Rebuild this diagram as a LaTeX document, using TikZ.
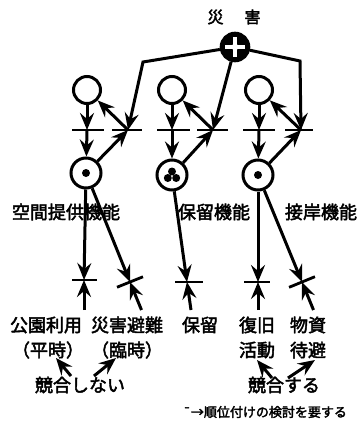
\documentclass[tikz,border=0pt]{standalone}
\usepackage{fontspec}
\setmainfont{Noto Sans CJK JP}[FakeBold=2.5]
\usetikzlibrary{arrows.meta,calc}
\tikzset{
  arr/.style={line width=3pt,-{Stealth[length=17pt,width=14pt,inset=6pt]}},
  ucirc/.style={circle,draw,line width=3pt,minimum size=27pt,inner sep=0pt},
  lcirc/.style={circle,draw,line width=3pt,minimum size=30pt,inner sep=0pt},
  barline/.style={line width=2.8pt},
  lbl/.style={font=\fontsize{18}{20}\selectfont,inner sep=0pt},
  dotmark/.style={circle,fill,inner sep=0pt,minimum size=8pt},
}
\begin{document}
\begin{tikzpicture}[x=1pt,y=-1pt]
\useasboundingbox (0,0) rectangle (358,421);
% title
\node[font=\fontsize{16}{18}\selectfont,inner sep=0pt] (title) at (234,17) {災\hspace{21pt}害};
% disaster circle
\node[circle,draw,fill=black,line width=2.6pt,minimum size=28pt,inner sep=0pt] (d) at (235,47) {};
\fill[white] ($(d.center)+(-10,-1.6)$) rectangle ($(d.center)+(10,1.6)$);
\fill[white] ($(d.center)+(-1.6,-10)$) rectangle ($(d.center)+(1.6,10)$);
\fill[white] (d.center) circle (3.4);
% upper circles
\node[ucirc] (u1) at (87,90) {};
\node[ucirc] (u2) at (172,90) {};
\node[ucirc] (u3) at (259,90) {};
% lower circles
\node[lcirc] (l1) at (86,173) {};
\node[lcirc] (l2) at (172,175) {};
\node[lcirc] (l3) at (258,175) {};
\node[dotmark] (l1d) at (l1) {};
\node[dotmark] (l3d) at (l3) {};
\node[dotmark] (l2a) at ($(l2)+(0,-3.5)$) {};
\node[dotmark] (l2b) at ($(l2)+(-4.2,3)$) {};
\node[dotmark] (l2c) at ($(l2)+(4.2,3)$) {};
% junctions and bars (y=130)
\coordinate (v1) at (87,130);
\coordinate (v2) at (172,130);
\coordinate (v3) at (259,130);
\coordinate (j1) at (128,130);
\coordinate (j2) at (213,130);
\coordinate (j3) at (301,130);
\coordinate (c1) at (143,62);
\coordinate (c3) at (300,61);
\draw[barline] (72,130) -- (104,130);
\draw[barline] (112,130) -- (142,130);
\draw[barline] (157,130) -- (190,130);
\draw[barline] (197,130) -- (228,130);
\draw[barline] (243,130) -- (275,130);
\draw[barline] (285,130) -- (313,130);
% disaster connectors
\draw[arr] (d) -- (c1) -- (j1);
\draw[arr] (d) -- (j2);
\draw[arr] (d) -- (c3) -- (j3);
% cluster connectors
\foreach \i in {1,2,3}{
  \draw[arr] (u\i) -- (v\i);
  \draw[arr] (v\i) -- (l\i);
  \draw[arr] (l\i) -- (j\i);
  \draw[arr] (j\i) -- (u\i);
}
% function labels
\node[lbl] (f1) at (66,212) {空間提供機能};
\node[lbl] (f2) at (214,212) {保留機能};
\node[lbl] (f3) at (321,212) {接岸機能};
% bottom bars
\coordinate (b1) at (84,280);
\coordinate (e1) at (84,310);
\coordinate (b2) at (130,282);
\coordinate (e2) at (141.5,310);
\coordinate (b3) at (187,282);
\coordinate (e3) at (191,310);
\coordinate (b4) at (258,282);
\coordinate (e4) at (258,310);
\coordinate (b5) at (302,282);
\coordinate (e5) at (313.5,310);
\draw[barline] (72,280) -- (97,280);
\draw[barline] ($(b2)!14pt!90:(l1)$) -- ($(b2)!14pt!-90:(l1)$);
\draw[barline] (175,282) -- (203,282);
\draw[barline] (244,282) -- (270,282);
\draw[barline] ($(b5)!14pt!90:(l3)$) -- ($(b5)!14pt!-90:(l3)$);
\draw[arr] (l1) -- (b1);
\draw[arr] (e1) -- (b1);
\draw[arr] (l1) -- (b2);
\draw[arr] (e2) -- (b2);
\draw[arr] (l2) -- (b3);
\draw[arr] (e3) -- (b3);
\draw[arr] (l3) -- (b4);
\draw[arr] (e4) -- (b4);
\draw[arr] (l3) -- (b5);
\draw[arr] (e5) -- (b5);
% bottom labels
\node[lbl] (t1) at (46,325) {公園利用};
\node[lbl] (t2) at (127,325) {災害避難};
\node[lbl] (t3) at (200,325) {保留};
\node[lbl] (t4) at (257,325) {復旧};
\node[lbl] (t5) at (308,325) {物資};
\node[lbl] (s1) at (48,350) {（平時）};
\node[lbl] (s2) at (127,350) {（臨時）};
\node[lbl] (s4) at (257,350) {活動};
\node[lbl] (s5) at (308,350) {待避};
\node[lbl] (k1) at (80,385) {競合しない};
\node[lbl] (k2) at (284,385) {競合する};
\node[font=\fontsize{13}{15}\selectfont,inner sep=0pt] (note) at (265,412) {¯→順位付けの検討を要する};
% competition arrows
\coordinate (k1a) at (71,376);
\coordinate (k1b) at (56,358);
\coordinate (k1c) at (94,376);
\coordinate (k1d) at (116,358);
\coordinate (k2a) at (272,378);
\coordinate (k2b) at (257,360);
\coordinate (k2c) at (288,378);
\coordinate (k2d) at (315,360);
\draw[arr] (k1a) -- (k1b);
\draw[arr] (k1c) -- (k1d);
\draw[arr] (k2a) -- (k2b);
\draw[arr] (k2c) -- (k2d);
\end{tikzpicture}
\end{document}
